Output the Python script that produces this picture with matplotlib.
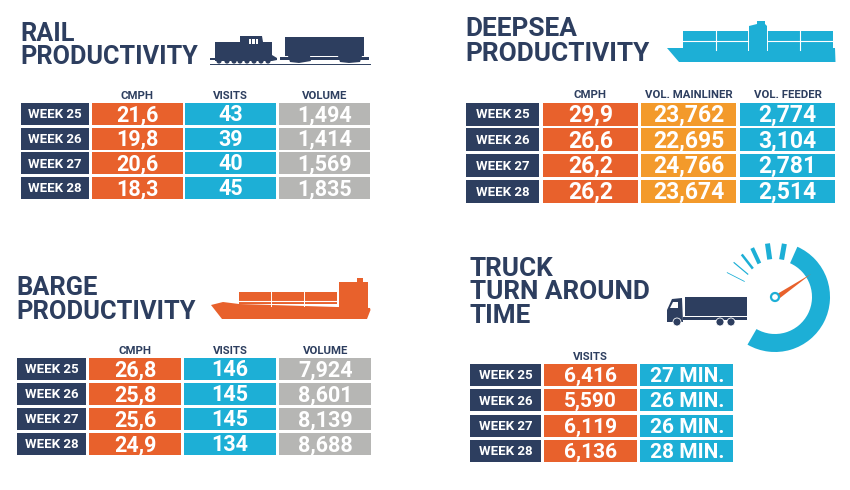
import matplotlib
matplotlib.use('Agg')
import matplotlib.pyplot as plt
from matplotlib.patches import Rectangle, Polygon, Circle, Wedge
import numpy as np

plt.rcParams['font.family'] = ['Roboto', 'DejaVu Sans']

NAVY = '#2D3E5F'
ORANGE = '#E8612C'
BLUE = '#1DAFD6'
GREY = '#B6B6B4'
AMBER = '#F39A2B'

weeks = ['WEEK 25', 'WEEK 26', 'WEEK 27', 'WEEK 28']

rail_cmph = ['21,6', '19,8', '20,6', '18,3']
rail_visits = ['43', '39', '40', '45']
rail_volume = ['1,494', '1,414', '1,569', '1,835']

deepsea_cmph = ['29,9', '26,6', '26,2', '26,2']
deepsea_mainliner = ['23,762', '22,695', '24,766', '23,674']
deepsea_feeder = ['2,774', '3,104', '2,781', '2,514']

barge_cmph = ['26,8', '25,8', '25,6', '24,9']
barge_visits = ['146', '145', '145', '134']
barge_volume = ['7,924', '8,601', '8,139', '8,688']

truck_visits = ['6,416', '5,590', '6,119', '6,136']
truck_minutes = ['27 MIN.', '26 MIN.', '26 MIN.', '28 MIN.']

fig = plt.figure(figsize=(8.5, 4.9), dpi=100)
ax = fig.add_axes([0, 0, 1, 1])
ax.set_xlim(0, 850)
ax.set_ylim(490, 0)
ax.axis('off')


def rect(x0, y0, x1, y1, color, z=2):
    ax.add_patch(Rectangle((x0, y0), x1 - x0, y1 - y0, fc=color, ec='none', zorder=z))


def poly(points, color, z=2):
    ax.add_patch(Polygon(points, closed=True, fc=color, ec='none', zorder=z))


def title(x, baselines, lines, size=18):
    for y, line in zip(baselines, lines):
        ax.text(x, y, line, color=NAVY, fontsize=size, fontweight='bold', va='baseline', ha='left')


def draw_table(label_x, col_x, first_y, pitch, height, headers, columns, colors, value_size=15):
    for i, week in enumerate(weeks):
        y0 = first_y + i * pitch
        y1 = y0 + height
        mid = (y0 + y1) / 2
        rect(label_x[0], y0, label_x[1], y1, NAVY)
        ax.text(sum(label_x) / 2, mid + 4.4, week, color='white', fontsize=9.5, fontweight='bold',
                ha='center', va='baseline')
        for (x0, x1), values, color in zip(col_x, columns, colors):
            rect(x0, y0, x1, y1, color)
            ax.text((x0 + x1) / 2, mid + value_size * 0.46, values[i], color='white', fontsize=value_size,
                    fontweight='bold', ha='center', va='baseline')
    for (x0, x1), header in zip(col_x, headers):
        ax.text((x0 + x1) / 2, first_y - 4.5, header, color=NAVY, fontsize=8.2, fontweight='bold',
                ha='center', va='baseline')


# Tables
title(20, [41, 64], ['RAIL', 'PRODUCTIVITY'], 18.2)
draw_table((21, 89), [(92, 183), (185.5, 276), (279, 370)], 103, 24.6, 22,
           ['CMPH', 'VISITS', 'VOLUME'], [rail_cmph, rail_visits, rail_volume], [ORANGE, BLUE, GREY], 15.5)

title(465, [36.5, 61], ['DEEPSEA', 'PRODUCTIVITY'], 18.9)
draw_table((466, 539.5), [(543, 638), (641, 736.5), (740, 835.5)], 102.5, 25.8, 23,
           ['CMPH', 'VOL. MAINLINER', 'VOL. FEEDER'], [deepsea_cmph, deepsea_mainliner, deepsea_feeder],
           [ORANGE, AMBER, BLUE], 16.5)

title(16, [295, 319], ['BARGE', 'PRODUCTIVITY'], 18.4)
draw_table((17, 86), [(89.5, 181.5), (184.5, 276), (279.5, 371)], 358, 25, 22,
           ['CMPH', 'VISITS', 'VOLUME'], [barge_cmph, barge_visits, barge_volume], [ORANGE, BLUE, GREY], 15.5)

title(470, [276, 299, 323], ['TRUCK', 'TURN AROUND', 'TIME'], 18.8)
draw_table((470, 541), [(544.5, 637), (640.5, 733.5)], 364, 25.3, 22,
           ['VISITS', ''], [truck_visits, truck_minutes], [ORANGE, BLUE])

# Train icon
rect(215, 42, 272, 61, NAVY)
poly([(240, 42), (240, 36), (262, 36), (263, 42)], NAVY)
rect(249, 39, 251.5, 44, 'white', 3)
rect(252.5, 39, 255, 44, 'white', 3)
rect(256, 39, 258.5, 44, 'white', 3)
poly([(272, 55), (277, 58), (277, 60), (272, 61)], NAVY)
rect(210, 58, 277, 60, NAVY)
for wx in [219, 227, 234, 240, 247, 254, 261, 268]:
    ax.add_patch(Circle((wx, 61), 2.6, fc=NAVY, ec='none', zorder=2))
rect(285, 37, 364, 56, NAVY)
rect(280, 57, 369, 60, NAVY)
poly([(288, 56), (310, 56), (311, 61), (299, 63), (290, 62)], NAVY)
poly([(338, 56), (362, 56), (360, 62), (349, 63), (340, 62)], NAVY)
ax.plot([210, 370], [64, 64], color=NAVY, lw=0.7, zorder=2)

# Deepsea ship
poly([(667, 48), (835, 48), (835.5, 62), (679, 62)], BLUE)
rect(683, 31, 833, 50, BLUE)
poly([(749, 26), (757, 24), (757, 21), (765, 21), (765, 24), (767, 26), (767, 50), (749, 50)], BLUE)
ax.plot([683, 748], [41, 41], color='white', lw=0.8, zorder=3)
ax.plot([768, 833], [41, 41], color='white', lw=0.8, zorder=3)
ax.plot([716, 716], [31, 50], color='white', lw=0.8, zorder=3)
ax.plot([800, 800], [31, 50], color='white', lw=0.8, zorder=3)
ax.plot([748, 748], [31, 50], color='white', lw=0.7, zorder=3)
ax.plot([767.5, 767.5], [31, 50], color='white', lw=0.7, zorder=3)

# Barge
poly([(211, 305), (223, 302), (239, 304), (370, 308), (370.5, 310), (367, 319), (222, 319)], ORANGE)
rect(239, 292, 337, 304, ORANGE)
poly([(339, 282), (357, 282), (357, 278), (363, 278), (363, 282), (368, 282), (368, 310), (339, 310)], ORANGE)
ax.plot([239, 337], [301, 301], color='white', lw=0.8, zorder=3)
ax.plot([271.5, 271.5], [292, 306], color='white', lw=0.7, zorder=3)
ax.plot([304, 304], [292, 306], color='white', lw=0.7, zorder=3)
rect(337, 292, 339, 307, 'white', 3)

# Truck
rect(685, 297, 747, 316, NAVY)
rect(683, 316.5, 747, 320, NAVY)
poly([(667, 322), (667, 310), (672, 299), (682, 298), (683, 322)], NAVY)
poly([(670, 308), (673, 302), (678, 302), (678, 308)], 'white', 3)
for wx in [677, 720, 731]:
    ax.add_patch(Circle((wx, 322), 4, fc=NAVY, ec='white', lw=0.6, zorder=3))

# Gauge
gauge_center = (775, 297)
ax.add_patch(Wedge(gauge_center, 55, -66, 120, width=18, fc=BLUE, ec='none', zorder=2))
tick_angles = [80, 98, 115, 128, 140, 153]
tick_widths = [5, 5, 4, 2.5, 1.2, 0.8]
tick_inner = [38, 38, 37, 36, 35, 34]
for angle, width, inner in zip(tick_angles, tick_widths, tick_inner):
    a = np.radians(angle)
    d = np.array([np.cos(a), -np.sin(a)])
    n = np.array([-d[1], d[0]]) * width / 2
    c = np.array(gauge_center)
    poly([c + d * inner - n, c + d * inner + n, c + d * 54 + n, c + d * 54 - n], BLUE)
poly([(811, 274), (778, 293.5), (780, 298)], ORANGE, 4)
ax.add_patch(Circle(gauge_center, 4, fc='white', ec=BLUE, lw=1.6, zorder=5))

fig.savefig('out.png', dpi=100, facecolor='white')
